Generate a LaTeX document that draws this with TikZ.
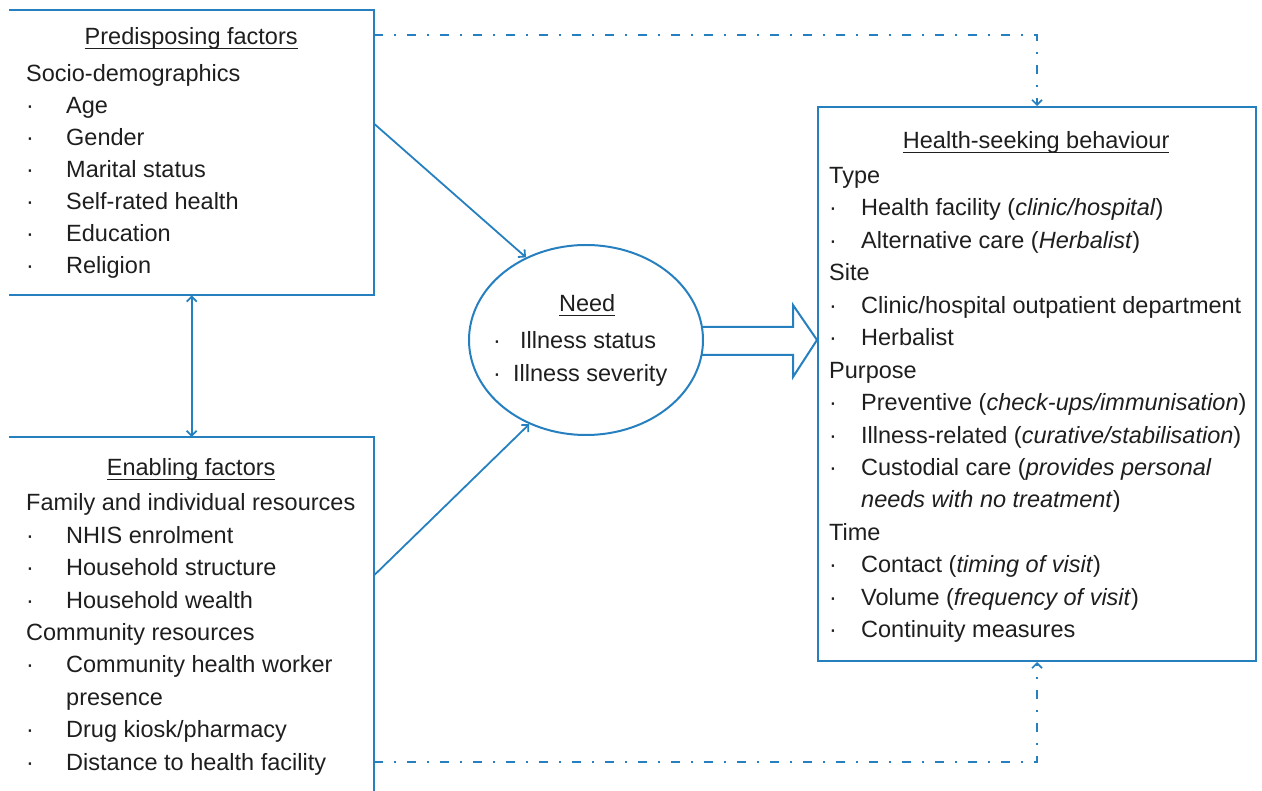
\documentclass[tikz,border=0pt]{standalone}
\usepackage{fontspec}
\setmainfont{Liberation Sans}
\usetikzlibrary{arrows.meta,shapes.geometric,calc}
\definecolor{lb}{RGB}{38,128,192}
\definecolor{ink}{RGB}{30,30,30}
\newcommand\myul[1]{\leavevmode\setbox0\hbox{#1}\rlap{\rule[-4.5pt]{\wd0}{1.3pt}}\box0}
\newcommand\ttl[2]{\noindent\makebox[#1]{\myul{#2}}\par}
\newcommand\bl[2]{\noindent\makebox[#1][l]{·}#2\par}
\begin{document}
\begin{tikzpicture}[x=1pt,y=-1pt,
  boxline/.style={draw=lb, line width=2pt},
  area/.style={rectangle, inner sep=0pt, anchor=north west},
  txt/.style={inner sep=0pt, anchor=base west, text=ink},
  arr/.style={draw=lb, line width=1.8pt, -{Straight Barb[length=5pt,width=10pt]}},
  twoway/.style={draw=lb, line width=1.8pt, {Straight Barb[length=5pt,width=10pt]}-{Straight Barb[length=5pt,width=10pt]}},
  dd/.style={draw=lb, line width=1.7pt, dash pattern=on 9pt off 11pt on 2pt off 11pt, -{Straight Barb[length=5pt,width=10pt]}}]
\useasboundingbox (0,0) rectangle (1262,791);
% boxes
\node[area, minimum width=365pt, minimum height=285pt] (pre) at (9,10) {};
\node[area, minimum width=365pt, minimum height=360pt] (ena) at (9,437) {};
\node[area, boxline, minimum width=438pt, minimum height=554pt] (hsb) at (817,106) {};
\node[ellipse, boxline, inner sep=0pt, minimum width=234pt, minimum height=190pt] (need) at (586,340) {};
\draw[boxline] (pre.north west) -- (pre.north east) -- (pre.south east) -- (pre.south west);
\draw[boxline] (ena.south east) -- (ena.north east) -- (ena.north west);
% texts
\node[txt] (preT) at (26,45) {\begin{minipage}[t]{345pt}\fontsize{23.5}{32.1}\selectfont\raggedright
\ttl{330pt}{Predisposing factors}\vspace{4pt}
Socio-demographics\par
\bl{40pt}{Age}
\bl{40pt}{Gender}
\bl{40pt}{Marital status}
\bl{40pt}{Self-rated health}
\bl{40pt}{Education}
\bl{40pt}{Religion}
\end{minipage}};
\node[txt] (enaT) at (26,476) {\begin{minipage}[t]{345pt}\fontsize{23.5}{32.4}\selectfont\raggedright
\ttl{330pt}{Enabling factors}\vspace{2.6pt}
Family and individual resources\par
\bl{40pt}{NHIS enrolment}
\bl{40pt}{Household structure}
\bl{40pt}{Household wealth}
Community resources\par
\bl{40pt}{Community health worker}
\hspace*{40pt}presence\par
\bl{40pt}{Drug kiosk/pharmacy}
\bl{40pt}{Distance to health facility}
\end{minipage}};
\node[txt] (needT) at (493,312) {\begin{minipage}[t]{200pt}\fontsize{23.5}{32.5}\selectfont\raggedright
\ttl{188pt}{Need}\vspace{4.5pt}
\bl{27pt}{Illness status}
\bl{20pt}{Illness severity}
\end{minipage}};
\node[txt] (hsbT) at (829,149) {\begin{minipage}[t]{424pt}\fontsize{23.5}{32.45}\selectfont\raggedright
\ttl{414pt}{Health-seeking behaviour}\vspace{2pt}
Type\par
\bl{32pt}{Health facility (\textit{clinic/hospital})}
\bl{32pt}{Alternative care (\textit{Herbalist})}
Site\par
\bl{32pt}{Clinic/hospital outpatient department}
\bl{32pt}{Herbalist}
Purpose\par
\bl{32pt}{Preventive (\textit{check-ups/immunisation})}
\bl{32pt}{Illness-related (\textit{curative/stabilisation})}
\bl{32pt}{Custodial care (\textit{provides personal}}
\hspace*{32pt}\textit{needs with no treatment})\par
Time\par
\bl{32pt}{Contact (\textit{timing of visit})}
\bl{32pt}{Volume (\textit{frequency of visit})}
\bl{32pt}{Continuity measures}
\end{minipage}};
% connectors
\draw[arr] ($(pre.north east)+(0,114)$) -- (need.126);
\draw[arr] ($(ena.north east)+(0,138)$) -- (need.236);
\draw[twoway] (pre.south) -- (ena.north);
\draw[boxline, line join=miter] (701.5,327) -- (793,327) -- (793,305) -- (hsb.west |- need.center) -- (793,377) -- (793,355) -- (701.5,355);
\draw[dd] ($(pre.north east)+(0,25)$) -| (hsb.north);
\draw[dd] ($(ena.north east)+(0,325)$) -| (hsb.south);
\end{tikzpicture}
\end{document}
